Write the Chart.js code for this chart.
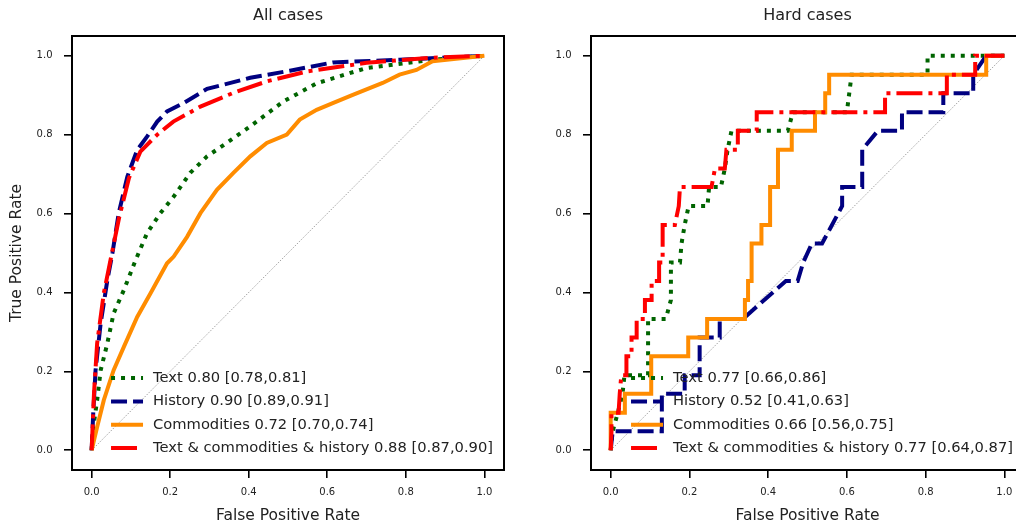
<!DOCTYPE html>
<html>
<head>
<meta charset="utf-8">
<script src="https://cdn.jsdelivr.net/npm/chart.js@4.4.1/dist/chart.umd.min.js"></script>
<style>
  html, body { margin: 0; padding: 0; background: #fff; overflow: hidden; }
  body { width: 1016px; height: 527px; position: relative; }
  canvas { position: absolute; top: 0; }
  #chart-all { left: 0; }
  #chart-hard { left: 519px; }
</style>
</head>
<body>
<canvas id="chart-all" width="508" height="527"></canvas>
<canvas id="chart-hard" width="510" height="527"></canvas>
<script>
  "use strict";

  const AXIS_TICKS = [0, 0.2, 0.4, 0.6, 0.8, 1.0];
  const CHANCE = [0, 1];

  const LABELS_ALL = [
    "Text 0.80 [0.78,0.81]",
    "History 0.90 [0.89,0.91]",
    "Commodities 0.72 [0.70,0.74]",
    "Text & commodities & history 0.88 [0.87,0.90]"
  ];
  const LABELS_HARD = [
    "Text 0.77 [0.66,0.86]",
    "History 0.52 [0.41,0.63]",
    "Commodities 0.66 [0.56,0.75]",
    "Text & commodities & history 0.77 [0.64,0.87]"
  ];

  // All cases
  const allTextFpr = [0, 0.002, 0.014, 0.023, 0.04, 0.056, 0.082, 0.112, 0.141, 0.175, 0.209, 0.251, 0.294, 0.344, 0.404, 0.488, 0.573, 0.7, 0.868, 1.0];
  const allTextTpr = [0, 0.043, 0.127, 0.203, 0.271, 0.347, 0.406, 0.482, 0.55, 0.601, 0.643, 0.703, 0.745, 0.779, 0.821, 0.884, 0.93, 0.969, 0.99, 1.0];

  const allHistFpr = [0, 0.004, 0.01, 0.023, 0.04, 0.053, 0.069, 0.091, 0.116, 0.141, 0.167, 0.192, 0.234, 0.294, 0.404, 0.505, 0.614, 0.784, 1.0];
  const allHistTpr = [0, 0.093, 0.203, 0.322, 0.431, 0.5, 0.601, 0.694, 0.761, 0.795, 0.833, 0.859, 0.88, 0.916, 0.944, 0.962, 0.983, 0.99, 1.0];

  const allCommFpr = [0, 0.014, 0.031, 0.056, 0.082, 0.116, 0.15, 0.192, 0.209, 0.243, 0.277, 0.319, 0.361, 0.404, 0.446, 0.497, 0.53, 0.573, 0.614, 0.665, 0.741, 0.784, 0.827, 0.868, 1.0];
  const allCommTpr = [0, 0.059, 0.127, 0.203, 0.262, 0.338, 0.398, 0.474, 0.491, 0.541, 0.601, 0.66, 0.703, 0.745, 0.779, 0.8, 0.838, 0.863, 0.88, 0.901, 0.931, 0.952, 0.964, 0.986, 1.0];

  const allCombFpr = [0, 0.006, 0.014, 0.031, 0.048, 0.07, 0.095, 0.124, 0.167, 0.208, 0.277, 0.361, 0.446, 0.547, 0.7, 0.868, 1.0];
  const allCombTpr = [0, 0.144, 0.271, 0.398, 0.482, 0.59, 0.69, 0.757, 0.8, 0.833, 0.871, 0.906, 0.935, 0.96, 0.982, 0.995, 1.0];

  // Hard cases
  const hardTextFpr = [0, 0.005, 0.018, 0.03, 0.035, 0.095, 0.095, 0.14, 0.153, 0.153, 0.176, 0.18, 0.188, 0.198, 0.246, 0.25, 0.28, 0.29, 0.297, 0.307, 0.45, 0.463, 0.6, 0.612, 0.805, 0.805, 1.0];
  const hardTextTpr = [0, 0.048, 0.095, 0.143, 0.19, 0.19, 0.333, 0.333, 0.381, 0.476, 0.476, 0.524, 0.571, 0.619, 0.619, 0.667, 0.667, 0.714, 0.762, 0.81, 0.81, 0.857, 0.857, 0.952, 0.952, 1.0, 1.0];

  const hardHistFpr = [0, 0.005, 0.13, 0.13, 0.188, 0.188, 0.226, 0.226, 0.277, 0.277, 0.336, 0.445, 0.475, 0.489, 0.511, 0.537, 0.588, 0.588, 0.639, 0.639, 0.679, 0.74, 0.74, 0.845, 0.845, 0.921, 0.921, 0.954, 1.0];
  const hardHistTpr = [0, 0.048, 0.048, 0.143, 0.143, 0.19, 0.19, 0.286, 0.286, 0.333, 0.333, 0.429, 0.429, 0.476, 0.524, 0.524, 0.619, 0.667, 0.667, 0.762, 0.81, 0.81, 0.857, 0.857, 0.905, 0.905, 0.952, 1.0, 1.0];

  const hardCommFpr = [0, 0, 0.036, 0.036, 0.103, 0.103, 0.197, 0.197, 0.245, 0.245, 0.341, 0.341, 0.349, 0.349, 0.358, 0.358, 0.383, 0.383, 0.405, 0.405, 0.425, 0.425, 0.46, 0.46, 0.519, 0.519, 0.545, 0.545, 0.555, 0.555, 0.954, 0.954, 1.0];
  const hardCommTpr = [0, 0.095, 0.095, 0.143, 0.143, 0.238, 0.238, 0.286, 0.286, 0.333, 0.333, 0.381, 0.381, 0.429, 0.429, 0.524, 0.524, 0.571, 0.571, 0.667, 0.667, 0.762, 0.762, 0.81, 0.81, 0.857, 0.857, 0.905, 0.905, 0.952, 0.952, 1.0, 1.0];

  const hardCombFpr = [0, 0.002, 0.002, 0.02, 0.023, 0.027, 0.04, 0.04, 0.053, 0.053, 0.066, 0.066, 0.087, 0.087, 0.104, 0.104, 0.123, 0.123, 0.132, 0.132, 0.163, 0.173, 0.176, 0.256, 0.265, 0.29, 0.294, 0.323, 0.323, 0.371, 0.371, 0.697, 0.697, 0.854, 0.854, 0.926, 0.926, 1.0];
  const hardCombTpr = [0, 0.048, 0.095, 0.095, 0.143, 0.19, 0.19, 0.238, 0.238, 0.286, 0.286, 0.333, 0.333, 0.381, 0.381, 0.429, 0.429, 0.476, 0.476, 0.571, 0.571, 0.619, 0.667, 0.667, 0.714, 0.714, 0.762, 0.762, 0.81, 0.81, 0.857, 0.857, 0.905, 0.905, 0.952, 0.952, 1.0, 1.0];

  const STYLES = [
    { color: "#006400", dash: [4, 6], order: 3 },
    { color: "#000080", dash: [16, 6], order: 2 },
    { color: "#ff8c00", dash: [], order: 1 },
    { color: "#ff0000", dash: [26, 6, 4, 6], order: 0 }
  ];
  const TEXT_COLOR = "#222";
  const FONT = "'DejaVu Sans', sans-serif";

  Chart.defaults.font.family = FONT;
  Chart.defaults.color = TEXT_COLOR;

  function pts(xs, ys) {
    return xs.map(function (x, i) { return { x: x, y: ys[i] }; });
  }

  const framePlugin = {
    id: "frame",
    afterDatasetsDraw: function (chart) {
      const a = chart.chartArea;
      const ctx = chart.ctx;
      ctx.save();
      ctx.strokeStyle = "#000";
      ctx.lineWidth = 2;
      ctx.setLineDash([]);
      ctx.strokeRect(a.left, a.top, a.right - a.left, a.bottom - a.top);
      ctx.restore();
    }
  };

  const innerLegend = {
    id: "innerLegend",
    afterDatasetsDraw: function (chart) {
      const a = chart.chartArea;
      const ctx = chart.ctx;
      const items = chart.data.datasets.filter(function (d) { return d.inLegend; });
      ctx.save();
      ctx.font = "14.7px " + FONT;
      const w = Math.max.apply(null, items.map(function (d) { return ctx.measureText(d.label).width; }));
      const textX = a.right - 11 - w;
      items.forEach(function (d, i) {
        const y = a.bottom - 22 - (items.length - 1 - i) * 23.3;
        ctx.strokeStyle = d.borderColor;
        ctx.lineWidth = d.borderWidth;
        ctx.setLineDash(d.borderDash);
        ctx.beginPath();
        ctx.moveTo(textX - 42, y);
        ctx.lineTo(textX - 10, y);
        ctx.stroke();
        ctx.fillStyle = TEXT_COLOR;
        ctx.textBaseline = "middle";
        ctx.textAlign = "left";
        ctx.fillText(d.label, textX, y);
      });
      ctx.restore();
    }
  };

  function axis(titleText, isY) {
    return {
      type: "linear",
      min: -0.05,
      max: 1.05,
      afterBuildTicks: function (s) {
        s.ticks = AXIS_TICKS.map(function (v) { return { value: v }; });
      },
      afterFit: function (s) {
        if (isY) s.width = 72; else s.height = 57;
      },
      border: { display: false },
      grid: {
        drawOnChartArea: false,
        drawTicks: true,
        tickLength: 8,
        color: "#000",
        lineWidth: 1.6
      },
      ticks: {
        font: { size: 10 },
        color: TEXT_COLOR,
        padding: isY ? 11.5 : 8,
        maxRotation: 0,
        autoSkip: false,
        callback: function (v) { return Number(v).toFixed(1); }
      },
      title: {
        display: !!titleText,
        text: titleText,
        font: { size: 15.5 },
        color: TEXT_COLOR,
        padding: isY ? { top: 7.7, bottom: 0 } : { top: 0, bottom: 1.7 }
      }
    };
  }

  function rocChart(canvasId, title, yTitle, series, labels, padRight) {
    const ctx = document.getElementById(canvasId);
    if (!ctx) return;
    const datasets = series.map(function (s, i) {
      return {
        label: labels[i],
        inLegend: true,
        data: pts(s[0], s[1]),
        borderColor: STYLES[i].color,
        borderDash: STYLES[i].dash,
        borderWidth: 4,
        order: STYLES[i].order,
        pointRadius: 0,
        tension: 0,
        fill: false
      };
    });
    datasets.push({
      label: "chance",
      inLegend: false,
      data: pts(CHANCE, CHANCE),
      borderColor: "#8c8c8c",
      borderDash: [1.5, 1.5],
      borderWidth: 0.8,
      order: 5,
      pointRadius: 0,
      fill: false
    });
    new Chart(ctx, {
      type: "line",
      data: { datasets: datasets },
      plugins: [framePlugin, innerLegend],
      options: {
        responsive: false,
        animation: false,
        devicePixelRatio: 1,
        layout: { padding: { left: 0, right: padRight, top: 0, bottom: 0 } },
        plugins: {
          legend: { display: false },
          tooltip: { enabled: false },
          title: {
            display: true,
            text: title,
            fullSize: false,
            color: TEXT_COLOR,
            font: { size: 16, weight: "normal" },
            padding: { top: 6, bottom: 10.8 }
          }
        },
        scales: {
          x: axis("False Positive Rate", false),
          y: axis(yTitle, true)
        }
      }
    });
  }

  rocChart("chart-all", "All cases", "True Positive Rate", [
    [allTextFpr, allTextTpr],
    [allHistFpr, allHistTpr],
    [allCommFpr, allCommTpr],
    [allCombFpr, allCombTpr]
  ], LABELS_ALL, 4);

  rocChart("chart-hard", "Hard cases", "", [
    [hardTextFpr, hardTextTpr],
    [hardHistFpr, hardHistTpr],
    [hardCommFpr, hardCommTpr],
    [hardCombFpr, hardCombTpr]
  ], LABELS_HARD, 5);
</script>
</body>
</html>
